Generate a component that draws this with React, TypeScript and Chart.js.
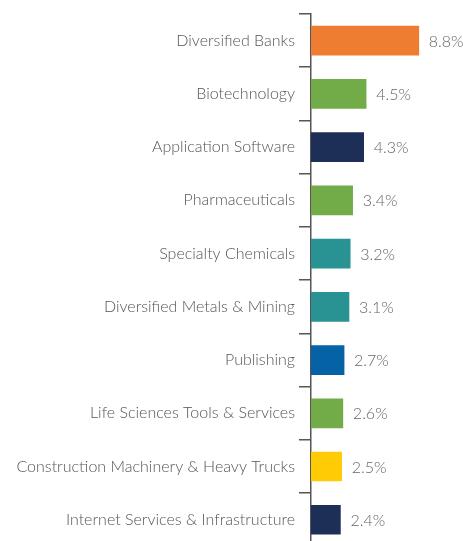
import React, { useEffect, useRef } from "react";
import { Chart, registerables } from "chart.js";

Chart.register(...registerables);

const categories = [
  "Diversified Banks",
  "Biotechnology",
  "Application Software",
  "Pharmaceuticals",
  "Specialty Chemicals",
  "Diversified Metals & Mining",
  "Publishing",
  "Life Sciences Tools & Services",
  "Construction Machinery & Heavy Trucks",
  "Internet Services & Infrastructure",
];
const values = [8.8, 4.5, 4.3, 3.4, 3.2, 3.1, 2.7, 2.6, 2.5, 2.4];
const barColors = [
  "#EE7D32",
  "#71AC48",
  "#1D2F57",
  "#71AC48",
  "#299292",
  "#299292",
  "#0562A5",
  "#71AC48",
  "#FFCB05",
  "#1D2F57",
];
const valueLabels = values.map((v) => v.toFixed(1) + "%");

const FONT = "Lato, 'Open Sans', sans-serif";

const valueLabelPlugin = {
  id: "valueLabels",
  afterDatasetsDraw(chart: any) {
    const ctx = chart.ctx;
    const meta = chart.getDatasetMeta(0);
    ctx.save();
    ctx.font = `300 16px ${FONT}`;
    ctx.fillStyle = "#666666";
    ctx.textAlign = "left";
    ctx.textBaseline = "middle";
    meta.data.forEach((bar: any, i: number) => {
      ctx.fillText(valueLabels[i], bar.x + 10, bar.y + 1);
    });
    ctx.restore();
  },
};

export default function App() {
  const ref = useRef<HTMLCanvasElement | null>(null);
  useEffect(() => {
    if (!ref.current) return;
    const chart = new Chart(ref.current, {
      type: "bar",
      data: {
        labels: categories,
        datasets: [
          {
            data: values,
            backgroundColor: barColors,
            borderWidth: 0,
            barThickness: 29,
          },
        ],
      },
      options: {
        indexAxis: "y",
        animation: false,
        responsive: false,
        maintainAspectRatio: false,
        layout: { padding: { top: 14, bottom: 12, left: 0, right: 5 } },
        plugins: {
          legend: { display: false },
          tooltip: { enabled: false },
        },
        scales: {
          x: {
            display: false,
            min: 0,
            max: 12,
          },
          y: {
            afterFit: (s: any) => {
              s.width = 311;
            },
            grid: {
              display: true,
              drawOnChartArea: false,
              drawTicks: true,
              tickLength: 12,
              color: "#555555",
              lineWidth: 1.5,
              offset: true,
            },
            border: { display: true, color: "#555555", width: 1.5 },
            ticks: {
              padding: 4,
              color: "#555555",
              font: { family: FONT, size: 16, weight: "300" as any },
            },
          },
        },
      },
      plugins: [valueLabelPlugin],
    });
    return () => chart.destroy();
  }, []);
  return (
    <div
      style={{
        position: "fixed",
        left: 0,
        top: 0,
        width: 463,
        height: 541,
        overflow: "hidden",
        background: "#fff",
      }}
    >
      <canvas ref={ref} width={463} height={560} style={{ display: "block" }} />
    </div>
  );
}
